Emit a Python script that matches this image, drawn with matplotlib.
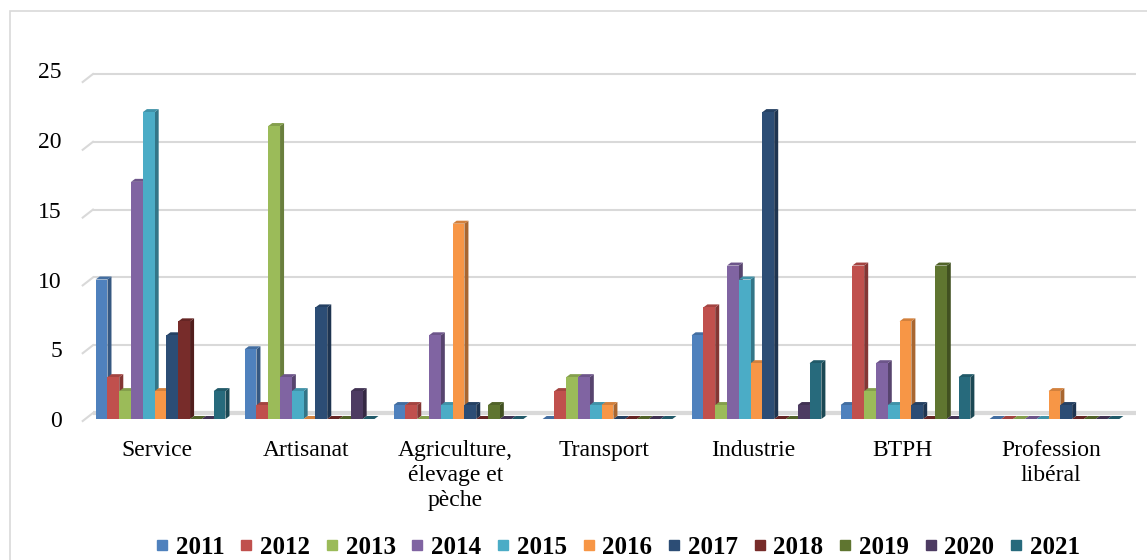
import numpy as np
import matplotlib
matplotlib.use("Agg")
import matplotlib.pyplot as plt
from matplotlib.patches import Polygon, Rectangle
from matplotlib.lines import Line2D
from matplotlib.colors import to_rgb

categories = ["Service", "Artisanat", "Agriculture,\nélevage et\npèche", "Transport",
              "Industrie", "BTPH", "Profession\nlibéral"]
years = ["2011", "2012", "2013", "2014", "2015", "2016", "2017", "2018", "2019", "2020", "2021"]

# une liste par secteur, valeurs 2011 -> 2021
service = [10, 3, 2, 17, 22, 2, 6, 7, 0, 0, 2]
artisanat = [5, 1, 21, 3, 2, 0, 8, 0, 0, 2, 0]
agriculture = [1, 1, 0, 6, 1, 14, 1, 0, 1, 0, 0]
transport = [0, 2, 3, 3, 1, 1, 0, 0, 0, 0, 0]
industrie = [6, 8, 1, 11, 10, 4, 22, 0, 0, 1, 4]
btph = [1, 11, 2, 4, 1, 7, 1, 0, 11, 0, 3]
profession = [0, 0, 0, 0, 0, 2, 1, 0, 0, 0, 0]

data = np.array([service, artisanat, agriculture, transport, industrie, btph, profession])

colors = ["#4F81BD", "#C0504D", "#9BBB59", "#8064A2", "#4BACC6", "#F79646",
          "#2C4D75", "#772C2A", "#5F7530", "#4D3B62", "#276A7C"]

plt.rcParams["font.family"] = ["Liberation Serif", "DejaVu Serif"]

W, H = 1147, 560
fig = plt.figure(figsize=(W / 100, H / 100), dpi=100)
ax = fig.add_axes([82.7 / W, 141 / H, (1136 - 82.7) / W, 348.75 / H])
ax.set_xlim(-0.5, 6.57)
ax.set_ylim(0, 25)

# cadre gris autour du graphique
fig.patches.append(Rectangle((10 / W, -0.1), 1.2, (H - 11) / H + 0.1, transform=fig.transFigure,
                             fill=False, edgecolor="#D9D9D9", linewidth=1.2))

# grille sur le mur du fond (effet 3D)
px_y = 13.95
for v in range(0, 26, 5):
    wall = (6 + 13.56 * v) / px_y
    ax.plot([-0.431, 6.57], [wall, wall], color="#D9D9D9", lw=3 if v == 0 else 1.5,
            zorder=0, clip_on=False, solid_capstyle="butt")
    ax.plot([-0.5, -0.431], [wall - 8 / px_y, wall], color="#D9D9D9", lw=1.5,
            zorder=0, clip_on=False)

off = -0.413
w = 0.0792
dx = 0.027
dy = 0.215


def shade(c, f):
    r, g, b = to_rgb(c)
    return (r * f, g * f, b * f)


z = 2
for i in range(len(categories)):
    for j in range(len(years)):
        v = data[i, j]
        x = i + off + j * w
        side = Polygon([(x + w, 0), (x + w + dx, dy), (x + w + dx, v + dy), (x + w, v)],
                       closed=True, facecolor=shade(colors[j], 0.68), edgecolor="none",
                       zorder=z, clip_on=False)
        top = Polygon([(x, v), (x + dx, v + dy), (x + w + dx, v + dy), (x + w, v)],
                      closed=True, facecolor=shade(colors[j], 0.85), edgecolor="none",
                      zorder=z, clip_on=False)
        ax.add_patch(side)
        ax.add_patch(top)
        ax.bar(x, v, width=w, align="edge", color=colors[j], edgecolor="none",
               zorder=z + 0.5, clip_on=False)
        z += 1

for s in ax.spines.values():
    s.set_visible(False)

ax.set_yticks(range(0, 26, 5))
ax.set_xticks(range(len(categories)))
ax.set_xticklabels(categories, fontsize=17, linespacing=1.25, va="top")
ax.tick_params(axis="y", length=0, pad=15, labelsize=17)
ax.tick_params(axis="x", length=0, pad=15)

handles = [Line2D([0], [0], marker="s", linestyle="none", markersize=7,
                  markerfacecolor=c, markeredgecolor=c) for c in colors]
fig.legend(handles, years, loc="center", bbox_to_anchor=(618 / W, 1 - 547 / H), ncol=11,
           frameon=False, prop={"weight": "bold", "size": 18}, handlelength=0.5,
           handletextpad=0.3, columnspacing=0.62, borderaxespad=0)

fig.savefig("out.png", dpi=100, facecolor="white")
